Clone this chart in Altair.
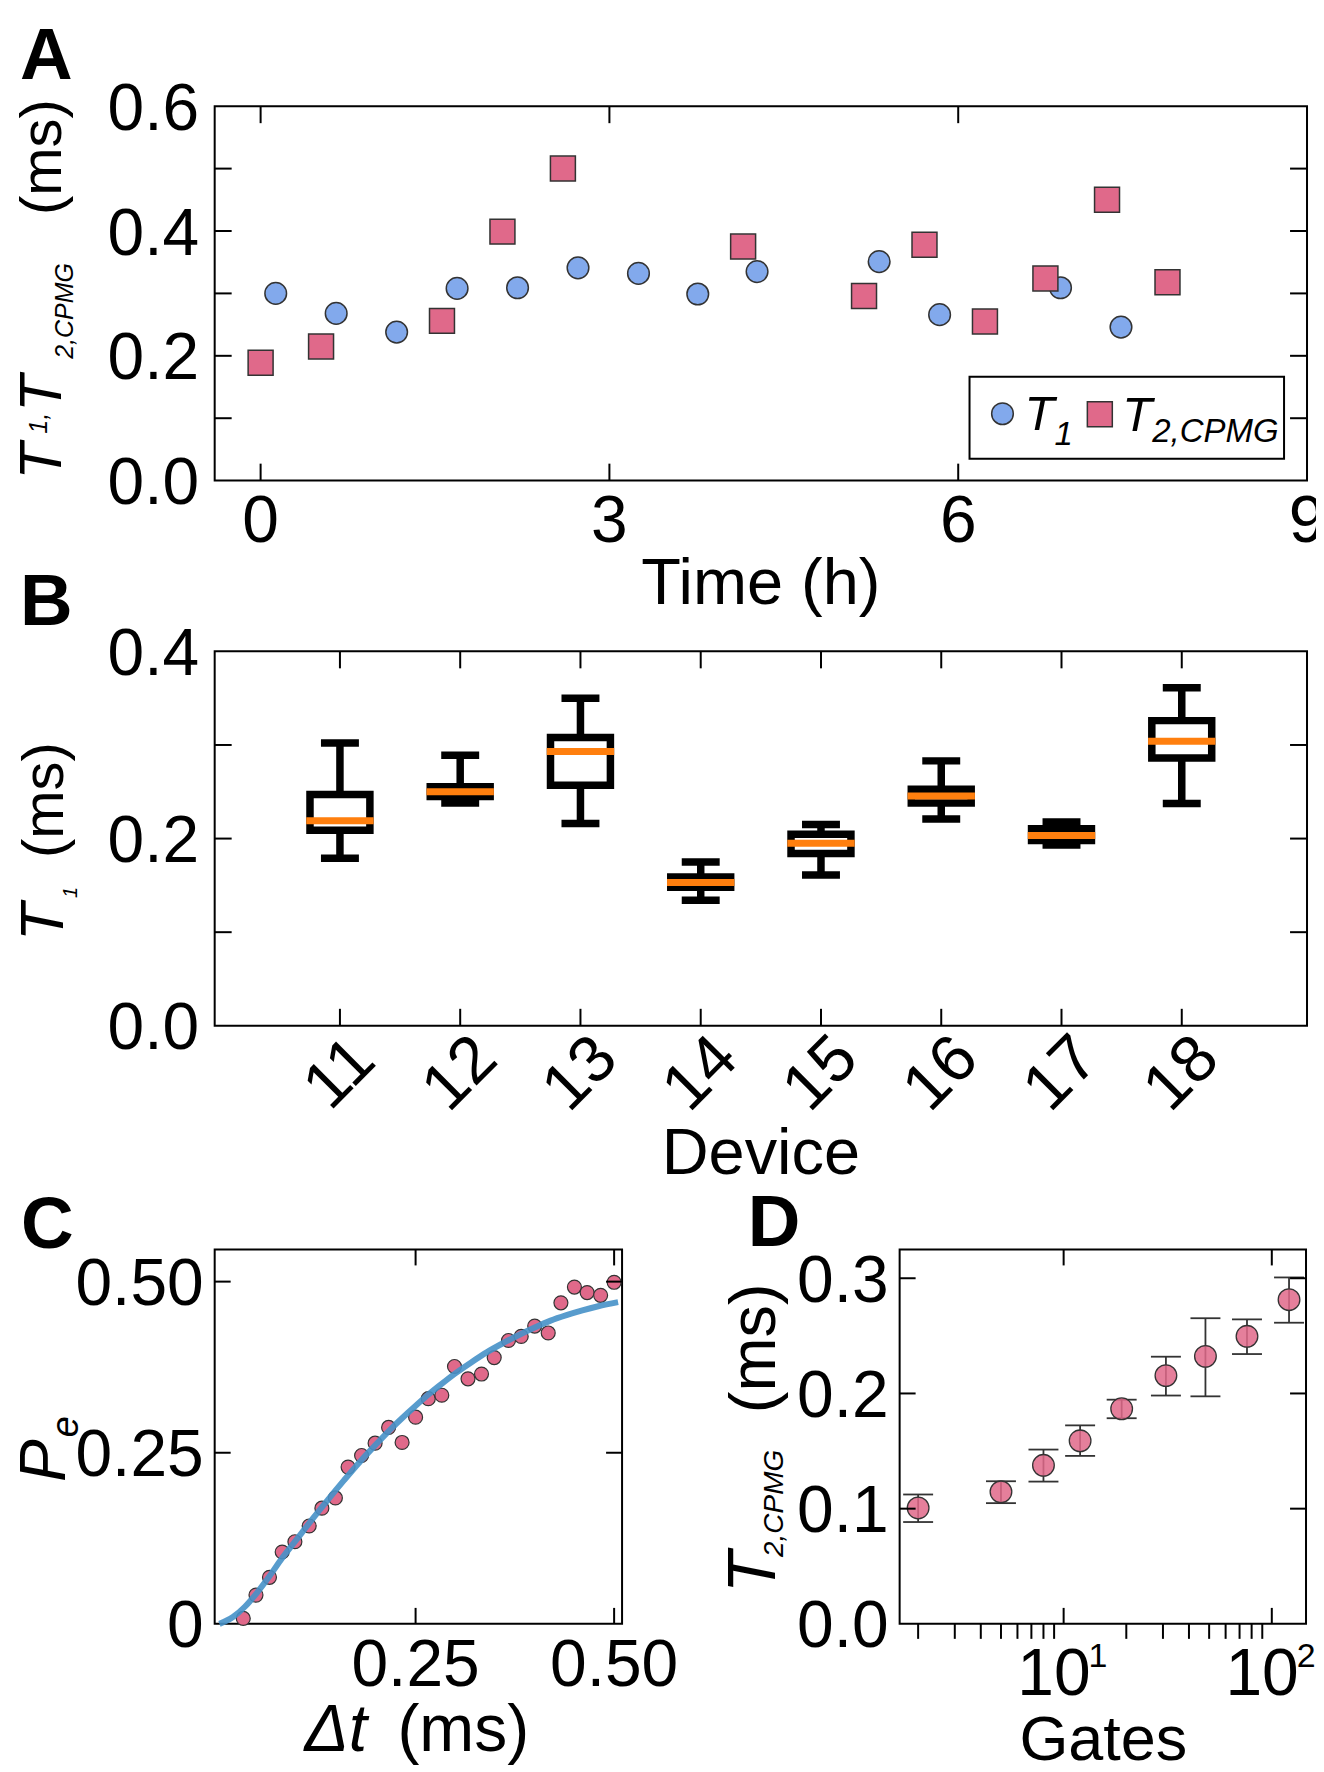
import altair as alt
import pandas as pd

FONT = "Liberation Sans"
BLUE = "#82a9ec"
PINK = "#e0698a"
EDGE = "#333333"
FIT = "#4691c8"
ORANGE = "#ff7f0e"
LAB = 66

# ---------------- Panel A: T1 and T2,CPMG over time
a_t1_time = [0.13, 0.65, 1.17, 1.69, 2.21, 2.73, 3.25, 3.76, 4.27, 5.32, 5.84, 6.88, 7.40]
a_t1_val = [0.300, 0.268, 0.238, 0.308, 0.309, 0.341, 0.332, 0.299, 0.335, 0.351, 0.266, 0.309, 0.246]
a_t2_time = [0.00, 0.52, 1.56, 2.08, 2.60, 4.15, 5.19, 5.71, 6.23, 6.75, 7.28, 7.80]
a_t2_val = [0.189, 0.215, 0.256, 0.399, 0.500, 0.375, 0.296, 0.378, 0.255, 0.324, 0.450, 0.318]
a_xlabels = [0, 3, 6, 9]
a_xlabel_text = ["0", "3", "6", "9"]
a_ylabels = [0.0, 0.2, 0.4, 0.6]
a_ylabel_text = ["0.0", "0.2", "0.4", "0.6"]
a_xticks = [0, 3, 6]
a_yticks = [0.1, 0.2, 0.3, 0.4, 0.5]
a_ytitle = ["T", "1,", "T", "2,CPMG", "(ms)"]
a_xtitle = "Time (h)"
a_legend = ["T", "1", "T", "2,CPMG"]

# ---------------- Panel B: T1 box plots per device
b_device = [11, 12, 13, 14, 15, 16, 17, 18]
b_device_text = ["11", "12", "13", "14", "15", "16", "17", "18"]
b_lo = [0.179, 0.238, 0.216, 0.134, 0.161, 0.221, 0.193, 0.2375]
b_q1 = [0.209, 0.245, 0.257, 0.148, 0.184, 0.238, 0.198, 0.286]
b_med = [0.219, 0.250, 0.293, 0.153, 0.195, 0.2455, 0.2034, 0.304]
b_q3 = [0.247, 0.2555, 0.308, 0.159, 0.2046, 0.2526, 0.2105, 0.326]
b_hi = [0.302, 0.289, 0.350, 0.175, 0.215, 0.283, 0.2177, 0.361]
b_ylabels = [0.0, 0.2, 0.4]
b_ylabel_text = ["0.0", "0.2", "0.4"]
b_yticks = [0.1, 0.2, 0.3]
b_ytitle = ["T", "1", "(ms)"]
b_xtitle = "Device"

# ---------------- Panel C: excited-state probability
c_dt = [0.033, 0.049, 0.066, 0.082, 0.098, 0.116, 0.132, 0.149, 0.165, 0.182,
        0.199, 0.216, 0.233, 0.250, 0.266, 0.283, 0.299, 0.316, 0.333, 0.349,
        0.367, 0.383, 0.400, 0.417, 0.433, 0.450, 0.466, 0.483, 0.500]
c_pe = [0.008, 0.042, 0.068, 0.105, 0.120, 0.143, 0.169, 0.184, 0.229, 0.246,
        0.264, 0.287, 0.265, 0.302, 0.329, 0.334, 0.376, 0.358, 0.365, 0.389,
        0.414, 0.420, 0.435, 0.425, 0.469, 0.492, 0.484, 0.480, 0.499]
c_fit_dt = [0.003, 0.02, 0.035, 0.05, 0.065, 0.08, 0.10, 0.12, 0.14, 0.16, 0.18, 0.20,
            0.22, 0.24, 0.26, 0.28, 0.30, 0.32, 0.34, 0.36, 0.38, 0.40, 0.42, 0.44,
            0.46, 0.48, 0.505]
c_fit_pe = [0.000, 0.010, 0.025, 0.045, 0.068, 0.093, 0.123, 0.153, 0.182, 0.210, 0.237, 0.262,
            0.286, 0.308, 0.329, 0.348, 0.366, 0.382, 0.397, 0.410, 0.422, 0.433, 0.443, 0.451,
            0.458, 0.464, 0.470]
c_xlabels = [0.25, 0.5]
c_xlabel_text = ["0.25", "0.50"]
c_ylabels = [0.0, 0.25, 0.5]
c_ylabel_text = ["0", "0.25", "0.50"]
c_ticks = [0.25, 0.5]
c_ytitle = ["P", "e"]
c_xtitle = ["\u0394t", "(ms)"]

# ---------------- Panel D: T2,CPMG vs number of gates
d_gates = [2, 5, 8, 12, 19, 31, 48, 76, 121]
d_t2 = [0.1006, 0.1146, 0.1376, 0.1589, 0.1867, 0.2155, 0.2322, 0.2496, 0.2814]
d_lo = [0.0884, 0.1048, 0.1235, 0.1458, 0.1785, 0.1982, 0.1975, 0.2342, 0.2614]
d_hi = [0.1123, 0.1238, 0.1513, 0.1723, 0.1946, 0.2319, 0.2653, 0.2643, 0.3007]
d_ylabels = [0.0, 0.1, 0.2, 0.3]
d_ylabel_text = ["0.0", "0.1", "0.2", "0.3"]
d_yticks = [0.1, 0.2, 0.3]
d_major = [10, 100]
d_major_base = ["10", "10"]
d_major_exp = ["1", "2"]
d_minor = [2, 3, 4, 5, 6, 7, 8, 9, 20, 30, 40, 50, 60, 70, 80, 90]
d_ytitle = ["T", "2,CPMG", "(ms)"]
d_xtitle = "Gates"

panel_letters = ["A", "B", "C", "D"]

W_AB, H = 1094, 375
W_C, W_D = 408, 407


def one():
    return pd.DataFrame({"k": [0]})


def txt(text, x, y, size, style=None, weight=None, angle=None, align="left"):
    kw = dict(align=align, baseline="alphabetic", fontSize=size, font=FONT, color="black")
    if style:
        kw["fontStyle"] = style
    if weight:
        kw["fontWeight"] = weight
    if angle is not None:
        kw["angle"] = angle
    return alt.Chart(pd.DataFrame({"t": [text]})).mark_text(**kw).encode(
        text="t:N", x=alt.value(x), y=alt.value(y))


def frame(W, Hh):
    return alt.Chart(one()).mark_rect(fillOpacity=0, stroke="black", strokeWidth=2).encode(
        x=alt.value(0), x2=alt.value(W), y=alt.value(0), y2=alt.value(Hh))


def blank(x1, x2, y1, y2):
    # white, invisible extent marker used to pin the overall page layout
    return alt.Chart(one()).mark_rect(fill="white", strokeWidth=0).encode(
        x=alt.value(x1), x2=alt.value(x2), y=alt.value(y1), y2=alt.value(y2))


def xticks(vals, scale, Hh, L, pos):
    c = alt.Chart(pd.DataFrame({"v": vals})).mark_rule(color="black", strokeWidth=2)
    x = alt.X("v:Q", scale=scale, axis=None)
    if pos == "bottom":
        return c.encode(x=x, y=alt.value(Hh - L), y2=alt.value(Hh))
    if pos == "top":
        return c.encode(x=x, y=alt.value(0), y2=alt.value(L))
    return c.encode(x=x, y=alt.value(Hh), y2=alt.value(Hh + L))


def yticks(vals, scale, W, L, pos):
    c = alt.Chart(pd.DataFrame({"v": vals})).mark_rule(color="black", strokeWidth=2)
    y = alt.Y("v:Q", scale=scale, axis=None)
    if pos == "left":
        return c.encode(y=y, x=alt.value(0), x2=alt.value(L))
    return c.encode(y=y, x=alt.value(W - L), x2=alt.value(W))


def xlabels(vals, texts, scale, y, angle=None, baseline="alphabetic"):
    kw = dict(align="center", baseline=baseline, fontSize=LAB, font=FONT, color="black")
    if angle is not None:
        kw["angle"] = angle
    return alt.Chart(pd.DataFrame({"v": vals, "t": texts})).mark_text(**kw).encode(
        x=alt.X("v:Q", scale=scale, axis=None), y=alt.value(y), text="t:N")


def ylabels(vals, texts, scale, x):
    return alt.Chart(pd.DataFrame({"v": vals, "t": texts})).mark_text(
        align="right", baseline="alphabetic", fontSize=LAB, font=FONT, color="black", dy=23.6).encode(
        y=alt.Y("v:Q", scale=scale, axis=None), x=alt.value(x), text="t:N")


# ================= Panel A
A_x = alt.Scale(domain=[-0.395, 9], nice=False, zero=False)
A_y = alt.Scale(domain=[0, 0.6], nice=False, zero=False)
dfa1 = pd.DataFrame({"time": a_t1_time, "val": a_t1_val})
dfa2 = pd.DataFrame({"time": a_t2_time, "val": a_t2_val})

a_t1 = alt.Chart(dfa1).mark_circle(size=470, fill=BLUE, stroke=EDGE, strokeWidth=1.5, opacity=1).encode(
    x=alt.X("time:Q", scale=A_x, axis=None), y=alt.Y("val:Q", scale=A_y, axis=None))
a_t2 = alt.Chart(dfa2).mark_square(size=625, fill=PINK, stroke=EDGE, strokeWidth=1.5, opacity=1).encode(
    x=alt.X("time:Q", scale=A_x, axis=None), y=alt.Y("val:Q", scale=A_y, axis=None))

leg_box = alt.Chart(one()).mark_rect(fill="white", stroke="black", strokeWidth=2).encode(
    x=alt.value(756), x2=alt.value(1071), y=alt.value(271), y2=alt.value(353))
leg_c = alt.Chart(one()).mark_circle(size=470, fill=BLUE, stroke=EDGE, strokeWidth=1.5, opacity=1).encode(
    x=alt.value(789), y=alt.value(308))
leg_s = alt.Chart(one()).mark_square(size=625, fill=PINK, stroke=EDGE, strokeWidth=1.5, opacity=1).encode(
    x=alt.value(886.5), y=alt.value(308.5))

A = alt.layer(
    blank(-206, 0, -96, 0), frame(W_AB, H), a_t1, a_t2,
    xticks(a_xticks, A_x, H, 17, "bottom"), xticks(a_xticks, A_x, H, 17, "top"),
    yticks(a_yticks, A_y, W_AB, 17, "left"), yticks(a_yticks, A_y, W_AB, 17, "right"),
    xlabels(a_xlabels, a_xlabel_text, A_x, 436),
    ylabels(a_ylabels, a_ylabel_text, A_y, -15.6),
    leg_box, leg_c, leg_s,
    txt(a_legend[0], 811, 324, 49, style="italic"),
    txt(a_legend[1], 841, 339, 33, style="italic"),
    txt(a_legend[2], 909, 325, 49, style="italic"),
    txt(a_legend[3], 939, 336, 33, style="italic"),
    txt(panel_letters[0], -195, -27, 73, weight="bold"),
    txt(a_ytitle[0], -154, 374, 60, style="italic", angle=270),
    txt(a_ytitle[1], -168, 328, 25, style="italic", angle=270),
    txt(a_ytitle[2], -154, 306, 60, style="italic", angle=270),
    txt(a_ytitle[3], -142, 253, 25, style="italic", angle=270),
    txt(a_ytitle[4], -154, 109, 58, angle=270),
    txt(a_xtitle, 547, 499, 65, align="center"),
).properties(width=W_AB, height=H)

# ================= Panel B
B_x = alt.Scale(domain=[10, 19], nice=False, zero=False)
B_y = alt.Scale(domain=[0, 0.4], nice=False, zero=False)
dfb = pd.DataFrame({"dev": b_device, "lo": b_lo, "q1": b_q1, "med": b_med, "q3": b_q3, "hi": b_hi})
bx = alt.X("dev:Q", scale=B_x, axis=None)

b_whisk = alt.Chart(dfb).mark_rule(color="black", strokeWidth=7.5).encode(
    x=bx, y=alt.Y("lo:Q", scale=B_y, axis=None), y2="hi:Q")
b_cap_lo = alt.Chart(dfb).mark_tick(orient="horizontal", size=38, thickness=7.5, color="black", opacity=1).encode(
    x=bx, y=alt.Y("lo:Q", scale=B_y, axis=None))
b_cap_hi = alt.Chart(dfb).mark_tick(orient="horizontal", size=38, thickness=7.5, color="black", opacity=1).encode(
    x=bx, y=alt.Y("hi:Q", scale=B_y, axis=None))
b_box = alt.Chart(dfb).mark_bar(size=60, fill="white", stroke="black", strokeWidth=7.5, opacity=1).encode(
    x=bx, y=alt.Y("q1:Q", scale=B_y, axis=None), y2="q3:Q")
b_median = alt.Chart(dfb).mark_tick(orient="horizontal", size=67.5, thickness=7, color=ORANGE, opacity=1).encode(
    x=bx, y=alt.Y("med:Q", scale=B_y, axis=None))

B = alt.layer(
    frame(W_AB, H), b_whisk, b_cap_lo, b_cap_hi, b_box, b_median,
    xticks(b_device, B_x, H, 17, "bottom"), xticks(b_device, B_x, H, 17, "top"),
    yticks(b_yticks, B_y, W_AB, 17, "left"), yticks(b_yticks, B_y, W_AB, 17, "right"),
    xlabels(b_device, b_device_text, B_x, 423, angle=315, baseline="middle"),
    ylabels(b_ylabels, b_ylabel_text, B_y, -15.6),
    txt(panel_letters[1], -195, -26, 73, weight="bold"),
    txt(b_ytitle[0], -152, 290, 62, style="italic", angle=270),
    txt(b_ytitle[1], -138, 247, 20, style="italic", angle=270),
    txt(b_ytitle[2], -152, 207, 58, angle=270),
    txt(b_xtitle, 547, 523, 65, align="center"),
).properties(width=W_AB, height=H)

# ================= Panel C
C_x = alt.Scale(domain=[-0.003, 0.51], nice=False, zero=False)
C_y = alt.Scale(domain=[0, 0.547], nice=False, zero=False)
dfc = pd.DataFrame({"dt": c_dt, "pe": c_pe})
dfc_fit = pd.DataFrame({"dt": c_fit_dt, "pe": c_fit_pe})

c_pts = alt.Chart(dfc).mark_circle(size=195, fill=PINK, stroke=EDGE, strokeWidth=1.2, opacity=1).encode(
    x=alt.X("dt:Q", scale=C_x, axis=None), y=alt.Y("pe:Q", scale=C_y, axis=None))
c_fit = alt.Chart(dfc_fit).mark_line(color=FIT, strokeWidth=6, opacity=0.9, interpolate="monotone").encode(
    x=alt.X("dt:Q", scale=C_x, axis=None), y=alt.Y("pe:Q", scale=C_y, axis=None))

C = alt.layer(
    frame(W_C, H), c_pts, c_fit,
    xticks(c_ticks, C_x, H, 16, "bottom"), xticks(c_ticks, C_x, H, 16, "top"),
    yticks(c_ticks, C_y, W_C, 16, "left"), yticks(c_ticks, C_y, W_C, 16, "right"),
    xlabels(c_xlabels, c_xlabel_text, C_x, 437),
    ylabels(c_ylabels, c_ylabel_text, C_y, -11),
    txt(panel_letters[2], -194, -1, 73, weight="bold"),
    txt(c_ytitle[0], -150, 233, 64, style="italic", angle=270),
    txt(c_ytitle[1], -137, 188, 38, style="italic", angle=270),
    txt(c_xtitle[0], 90, 502, 66, style="italic"),
    txt(c_xtitle[1], 183, 502, 66),
).properties(width=W_C, height=H)

# ================= Panel D
D_x = alt.Scale(type="log", domain=[1.63, 146], nice=False)
D_y = alt.Scale(domain=[0, 0.325], nice=False, zero=False)
dfd = pd.DataFrame({"gates": d_gates, "t2": d_t2, "lo": d_lo, "hi": d_hi})
dx_ = alt.X("gates:Q", scale=D_x, axis=None)

d_err = alt.Chart(dfd).mark_rule(color=EDGE, strokeWidth=1.8).encode(
    x=dx_, y=alt.Y("lo:Q", scale=D_y, axis=None), y2="hi:Q")
d_cap_lo = alt.Chart(dfd).mark_tick(orient="horizontal", size=30, thickness=1.8, color=EDGE, opacity=1).encode(
    x=dx_, y=alt.Y("lo:Q", scale=D_y, axis=None))
d_cap_hi = alt.Chart(dfd).mark_tick(orient="horizontal", size=30, thickness=1.8, color=EDGE, opacity=1).encode(
    x=dx_, y=alt.Y("hi:Q", scale=D_y, axis=None))
d_pts = alt.Chart(dfd).mark_circle(size=470, fill=PINK, stroke=EDGE, strokeWidth=1.3, opacity=1,
                                   fillOpacity=0.85).encode(
    x=dx_, y=alt.Y("t2:Q", scale=D_y, axis=None))
dfd_lab = pd.DataFrame({"v": d_major, "b": d_major_base, "e": d_major_exp})
d_lab_base = alt.Chart(dfd_lab).mark_text(align="right", baseline="alphabetic", fontSize=LAB, font=FONT,
                                          color="black", dx=27).encode(
    x=alt.X("v:Q", scale=D_x, axis=None), y=alt.value(446), text="b:N")
d_lab_exp = alt.Chart(dfd_lab).mark_text(align="left", baseline="alphabetic", fontSize=34, font=FONT,
                                         color="black", dx=25).encode(
    x=alt.X("v:Q", scale=D_x, axis=None), y=alt.value(418), text="e:N")

D = alt.layer(
    blank(430, 440, 525, 531), frame(W_D, H), d_err, d_cap_lo, d_cap_hi, d_pts,
    xticks(d_major, D_x, H, 16, "bottom"), xticks(d_major, D_x, H, 16, "top"),
    xticks(d_minor, D_x, H, 15, "out"),
    yticks(d_yticks, D_y, W_D, 16, "left"), yticks(d_yticks, D_y, W_D, 16, "right"),
    d_lab_base, d_lab_exp,
    ylabels(d_ylabels, d_ylabel_text, D_y, -11),
    txt(panel_letters[3], -152, -3, 73, weight="bold"),
    txt(d_ytitle[0], -125, 344, 68, style="italic", angle=270),
    txt(d_ytitle[1], -117, 308, 28, style="italic", angle=270),
    txt(d_ytitle[2], -125, 164, 65, angle=270),
    txt(d_xtitle, 204, 511, 63, align="center"),
).properties(width=W_D, height=H)


def spacer(h):
    return alt.Chart(one()).mark_point(opacity=0).encode(
        x=alt.value(0), y=alt.value(0)).properties(width=1, height=h)


bottom_row = alt.hconcat(C, D, spacing=278, bounds="flush")

chart = alt.vconcat(
    A, spacer(171), B, spacer(224), bottom_row, spacing=0, bounds="flush"
).properties(
    padding={"left": 0, "top": 0, "right": -24, "bottom": -16}
).configure(
    font=FONT
).configure_view(
    stroke="transparent"
)

chart.save("out.html", embed_options={"renderer": "svg", "actions": False})
